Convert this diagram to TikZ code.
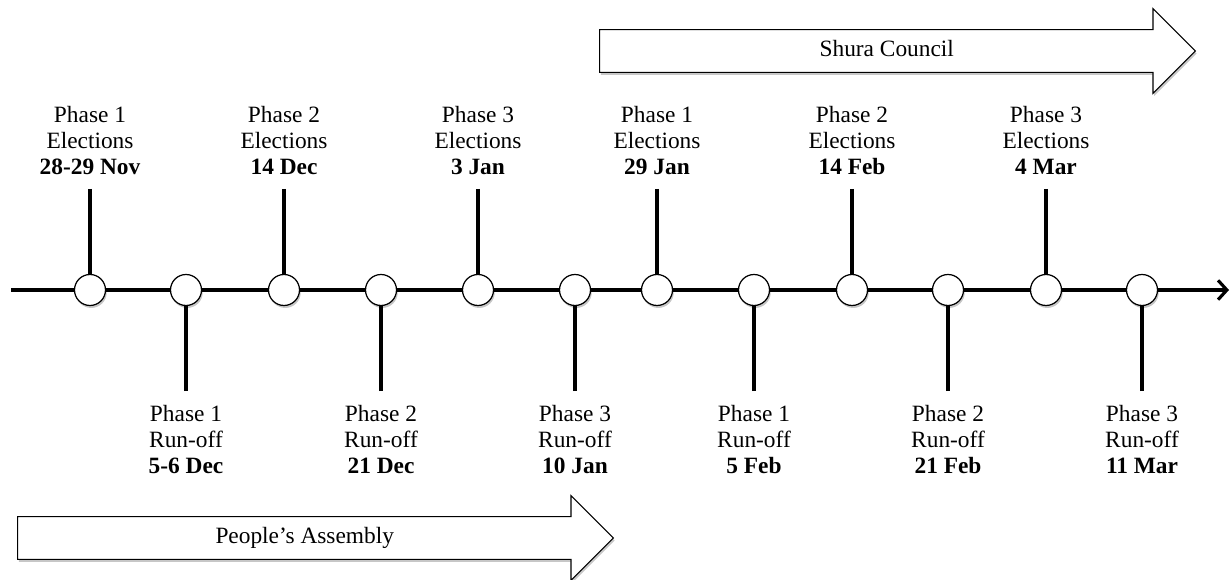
\documentclass[tikz,border=0pt]{standalone}
\usepackage{fontspec}
\setmainfont{Liberation Serif}
\usetikzlibrary{arrows.meta, shapes.arrows, positioning, shadows}

\begin{document}
\begin{tikzpicture}[
  x=0.02cm, y=-0.02cm,
  every node/.style={font=\fontsize{13.3}{14.7}\selectfont},
  softshadow/.style={drop shadow={shadow xshift=0.7pt, shadow yshift=-1.4pt, opacity=0.22, fill=black}},
  event/.style={circle, draw=black, line width=0.7pt, fill=white, minimum size=0.62cm, inner sep=0pt, softshadow},
  uplabel/.style={align=center, inner sep=0pt, outer sep=8pt},
  downlabel/.style={align=center, inner sep=0pt, outer sep=8pt},
  stem/.style={line width=1.8pt},
  axisline/.style={line width=1.8pt, -{Straight Barb[length=5pt, width=11pt]}},
  period/.style={single arrow, draw=black, line width=0.6pt, fill=white, anchor=tail,
    minimum height=11.92cm, single arrow head extend=0.42cm, single arrow tip angle=90,
    text height=9pt, text depth=3pt, inner ysep=5.9pt, softshadow},
]
\useasboundingbox (0,0) rectangle (1230,580);

%% Time axis
\coordinate (tstart) at (11,290);
\coordinate (tend)   at (1229,290);
\draw[axisline] (tstart) -- (tend);

%% Events on the axis
\node[event] (c1)  at (90,290)   {};
\node[event] (c2)  at (186,290)  {};
\node[event] (c3)  at (284,290)  {};
\node[event] (c4)  at (381,290)  {};
\node[event] (c5)  at (478,290)  {};
\node[event] (c6)  at (575,290)  {};
\node[event] (c7)  at (657,290)  {};
\node[event] (c8)  at (754,290)  {};
\node[event] (c9)  at (852,290)  {};
\node[event] (c10) at (948,290)  {};
\node[event] (c11) at (1046,290) {};
\node[event] (c12) at (1142,290) {};

%% Election labels above
\node[uplabel, above=1.7cm of c1]  (l1)  {Phase 1\\Elections\\\textbf{28-29 Nov}};
\node[uplabel, above=1.7cm of c3]  (l3)  {Phase 2\\Elections\\\textbf{14 Dec}};
\node[uplabel, above=1.7cm of c5]  (l5)  {Phase 3\\Elections\\\textbf{3 Jan}};
\node[uplabel, above=1.7cm of c7]  (l7)  {Phase 1\\Elections\\\textbf{29 Jan}};
\node[uplabel, above=1.7cm of c9]  (l9)  {Phase 2\\Elections\\\textbf{14 Feb}};
\node[uplabel, above=1.7cm of c11] (l11) {Phase 3\\Elections\\\textbf{4 Mar}};

%% Run-off labels below
\node[downlabel, below=1.7cm of c2]  (l2)  {Phase 1\\Run-off\\\textbf{5-6 Dec}};
\node[downlabel, below=1.7cm of c4]  (l4)  {Phase 2\\Run-off\\\textbf{21 Dec}};
\node[downlabel, below=1.7cm of c6]  (l6)  {Phase 3\\Run-off\\\textbf{10 Jan}};
\node[downlabel, below=1.7cm of c8]  (l8)  {Phase 1\\Run-off\\\textbf{5 Feb}};
\node[downlabel, below=1.7cm of c10] (l10) {Phase 2\\Run-off\\\textbf{21 Feb}};
\node[downlabel, below=1.7cm of c12] (l12) {Phase 3\\Run-off\\\textbf{11 Mar}};

%% Stems
\draw[stem] (l1) -- (c1);
\draw[stem] (l2) -- (c2);
\draw[stem] (l3) -- (c3);
\draw[stem] (l4) -- (c4);
\draw[stem] (l5) -- (c5);
\draw[stem] (l6) -- (c6);
\draw[stem] (l7) -- (c7);
\draw[stem] (l8) -- (c8);
\draw[stem] (l9) -- (c9);
\draw[stem] (l10) -- (c10);
\draw[stem] (l11) -- (c11);
\draw[stem] (l12) -- (c12);

%% Chambers
\node[period] (shura)    at (599,51)  {Shura Council};
\node[period] (assembly) at (17,538)  {People's Assembly};

\end{tikzpicture}
\end{document}
